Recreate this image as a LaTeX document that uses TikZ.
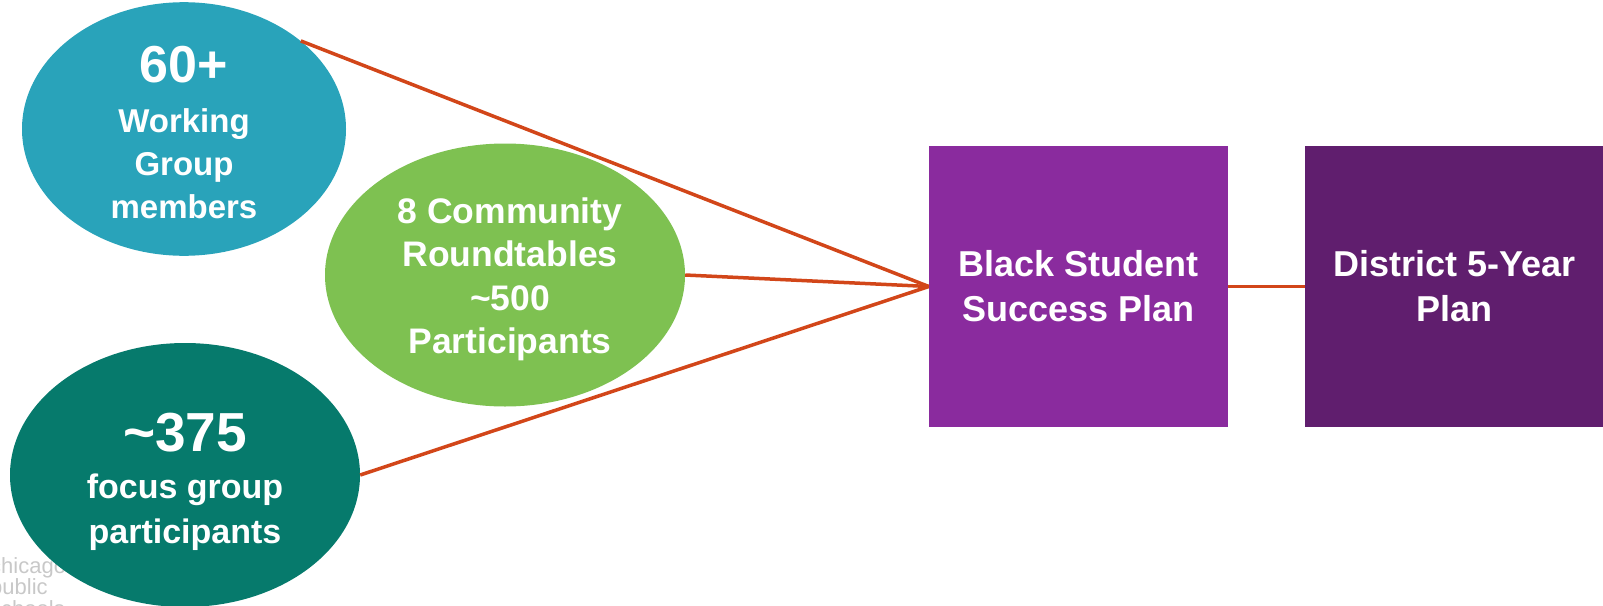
\documentclass[tikz,border=0pt]{standalone}
\usepackage{fontspec}
\setmainfont{Liberation Sans}
\usetikzlibrary{positioning,
                shapes.geometric
                }
\definecolor{wgblue}{HTML}{29A3BA}
\definecolor{crgreen}{HTML}{7EC151}
\definecolor{fgteal}{HTML}{067A6C}
\definecolor{bsspurple}{HTML}{8A2B9E}
\definecolor{dfyplum}{HTML}{601E6E}
\definecolor{linkred}{HTML}{D24619}
\definecolor{logogray}{HTML}{C8C8C8}

\begin{document}
\begin{tikzpicture}[
    x=1pt, y=-1pt,
 blob/.style = {shape=ellipse, inner sep=0pt, align=center, text=white},
 plan/.style = {shape=rectangle, minimum width=299pt, minimum height=281pt,
                inner sep=0pt, align=center, text=white,
                font=\bfseries\fontsize{36}{45}\selectfont},
 link/.style = {draw=linkred, line width=3.5pt}
                    ]
\useasboundingbox (0,0) rectangle (1603,605);
% logo in the corner, mostly covered
\node (cps) [anchor=north west, align=left, inner sep=0pt, text=logogray,
             font=\fontsize{22}{20}\selectfont] at (-10,557) {chicago\\ public\\ schools};
% sources
\node (wg) [blob, fill=wgblue, minimum width=324pt, minimum height=250pt,
            font=\bfseries\fontsize{33}{43}\selectfont] at (184,129)
      {\rule{0pt}{43pt}{\fontsize{52}{52}\selectfont 60+}\\[7pt] Working\\ Group\\ members};
\node (cr) [blob, fill=crgreen, minimum width=360pt, minimum height=263pt,
            font=\bfseries\fontsize{35.5}{43.5}\selectfont] at (505,275)
      {\rule{0pt}{34pt}\hspace{10pt}8 Community\\ \hspace{10pt}Roundtables\\ \hspace{10pt}\textasciitilde500\\ \hspace{10pt}Participants};
\node (fg) [blob, fill=fgteal, minimum width=350pt, minimum height=264pt,
            font=\bfseries\fontsize{34}{45}\selectfont] at (185,475)
      {\rule{0pt}{53pt}{\fontsize{55}{55}\selectfont\textasciitilde375}\\[2pt] focus group\\ participants};
% plans
\node (bssp) [plan, fill=bsspurple] at (1078.5,286.5) {Black Student\\ Success Plan};
\node (dfyp) [plan, fill=dfyplum, right=77pt of bssp] {District 5-Year\\ Plan};
% connectors
\draw[link] (wg.37)   -- (bssp.west);
\draw[link] (cr.east) -- (bssp.west);
\draw[link] (fg.east) -- (bssp.west);
\draw[link] (bssp) -- (dfyp);
\end{tikzpicture}
\end{document}
